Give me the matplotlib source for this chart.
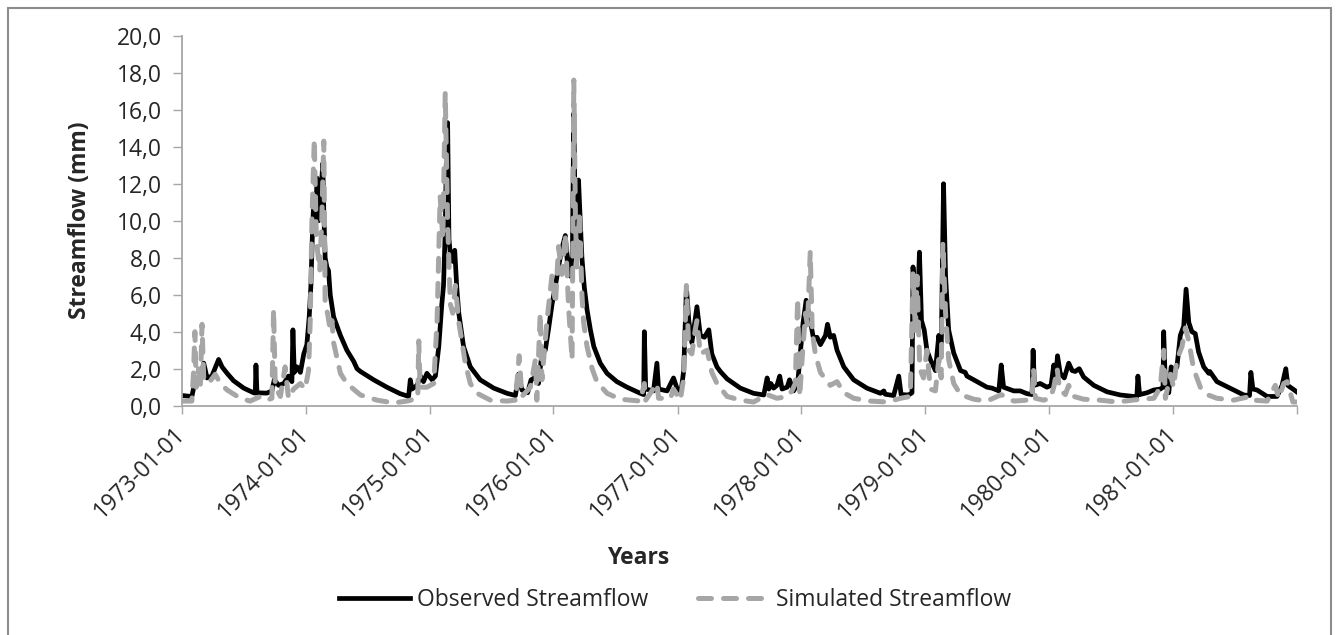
import numpy as np
import matplotlib
matplotlib.use('Agg')
import matplotlib.pyplot as plt
from matplotlib.patches import Rectangle
from matplotlib.ticker import FuncFormatter

plt.rcParams['font.family'] = ['Open Sans', 'DejaVu Sans']

# days counted from 1973-01-01, values in mm
obs_day = [0, 29, 36, 44, 54, 64, 74, 88, 108, 118, 133, 152, 182, 211, 216, 218, 221, 250, 265, 272,
           285, 300, 314, 324, 327, 331, 339, 349, 359, 368, 375, 380, 384, 388, 393, 398, 403, 408, 413, 415,
           418, 422, 427, 432, 437, 447, 467, 486, 506, 516, 526, 565, 604, 643, 668, 673, 678, 693, 703, 712,
           722, 737, 747, 757, 766, 771, 776, 779, 783, 787, 791, 798, 804, 810, 816, 830, 850, 879, 919, 958,
           983, 992, 1002, 1019, 1029, 1039, 1051, 1061, 1071, 1081, 1091, 1101, 1110, 1120, 1130, 1137, 1145, 1151, 1155, 1160,
           1164, 1169, 1174, 1179, 1186, 1194, 1204, 1214, 1233, 1253, 1282, 1312, 1351, 1361, 1363, 1367, 1390, 1400, 1405, 1430,
           1449, 1459, 1471, 1479, 1487, 1494, 1503, 1518, 1528, 1540, 1553, 1562, 1577, 1587, 1607, 1646, 1685, 1715, 1725, 1730,
           1736, 1744, 1754, 1762, 1769, 1784, 1791, 1803, 1815, 1823, 1831, 1840, 1844, 1852, 1862, 1872, 1882, 1897, 1903, 1911,
           1921, 1931, 1951, 1980, 2019, 2059, 2069, 2073, 2098, 2113, 2120, 2142, 2152, 2155, 2162, 2167, 2174, 2180, 2188, 2196,
           2206, 2221, 2231, 2238, 2245, 2251, 2260, 2275, 2295, 2309, 2314, 2334, 2373, 2388, 2408, 2415, 2422, 2452, 2471, 2491,
           2506, 2509, 2513, 2530, 2550, 2562, 2570, 2576, 2581, 2589, 2601, 2614, 2624, 2633, 2645, 2658, 2688, 2727, 2766, 2806,
           2815, 2818, 2823, 2845, 2865, 2884, 2892, 2894, 2899, 2909, 2916, 2925, 2933, 2943, 2953, 2960, 2968, 2977, 2987, 2997,
           3012, 3027, 3030, 3051, 3100, 3130, 3147, 3151, 3157, 3169, 3199, 3228, 3243, 3254, 3260, 3267, 3275, 3286]
obs_val = [0.55, 0.5, 1.1, 1.3, 1.4, 2.3, 1.5, 1.6, 2.5, 2.1, 1.75, 1.35, 0.95, 0.7, 0.68, 2.2, 0.7, 0.68, 0.8, 1.4,
           1.1, 1.2, 1.6, 1.3, 4.1, 1.8, 2.1, 1.8, 2.8, 3.3, 4.8, 6.5, 9.0, 11.0, 9.5, 12.3, 10.0, 11.5, 12.5, 13.1,
           10.5, 8.0, 7.5, 7.3, 6.0, 4.8, 3.8, 3.0, 2.4, 2.0, 1.85, 1.4, 1.0, 0.65, 0.5, 1.4, 0.9, 1.1, 1.6, 1.3,
           1.75, 1.4, 1.6, 3.2, 5.5, 6.5, 9.5, 13.0, 15.3, 9.0, 8.2, 7.8, 8.4, 6.4, 5.0, 3.2, 2.1, 1.4, 0.95, 0.67,
           0.55, 1.7, 0.85, 0.7, 1.4, 1.5, 1.2, 2.8, 3.0, 4.2, 5.5, 6.5, 7.5, 8.5, 9.2, 7.5, 7.0, 8.5, 15.8, 9.0,
           8.3, 12.2, 10.0, 8.0, 6.4, 5.2, 4.1, 3.2, 2.3, 1.75, 1.3, 1.0, 0.67, 0.6, 4.0, 0.9, 0.8, 2.3, 0.9, 0.8,
           1.5, 0.95, 0.75, 1.9, 6.4, 4.6, 3.4, 5.35, 3.8, 3.7, 4.1, 2.8, 2.1, 1.85, 1.45, 0.95, 0.67, 0.58, 1.5, 0.9,
           1.2, 0.95, 1.1, 1.6, 0.9, 1.0, 1.4, 0.8, 1.2, 2.9, 4.5, 5.7, 5.3, 4.6, 3.6, 3.7, 3.3, 3.8, 4.4, 3.7,
           3.8, 3.0, 2.1, 1.4, 0.95, 0.67, 0.8, 0.62, 0.55, 1.6, 0.6, 0.58, 0.7, 7.5, 5.5, 4.5, 8.3, 4.6, 4.1, 3.0,
           2.5, 1.9, 3.8, 2.8, 12.0, 7.0, 4.1, 2.85, 1.9, 1.8, 1.6, 1.4, 1.0, 0.95, 0.8, 2.2, 1.0, 0.8, 0.8, 0.65,
           0.6, 3.0, 1.1, 1.2, 1.0, 1.1, 2.2, 1.6, 2.7, 1.75, 1.5, 2.3, 1.9, 1.85, 2.0, 1.55, 1.1, 0.75, 0.58, 0.5,
           0.5, 1.6, 0.6, 0.7, 0.85, 0.9, 1.0, 4.0, 1.1, 0.7, 2.1, 1.9, 2.1, 3.8, 4.3, 6.3, 4.5, 4.0, 3.9, 2.9,
           2.1, 1.75, 1.85, 1.3, 0.85, 0.58, 0.55, 1.8, 0.9, 0.85, 0.5, 0.5, 1.1, 2.0, 1.1, 1.0, 0.9, 0.75]

sim_day = [0, 29, 34, 38, 42, 49, 54, 59, 64, 78, 98, 113, 133, 172, 201, 231, 250, 265, 270, 275,
           290, 304, 314, 329, 349, 363, 373, 378, 383, 390, 396, 406, 412, 418, 422, 429, 437, 442, 447, 467,
           486, 526, 575, 624, 663, 695, 698, 702, 722, 742, 752, 761, 769, 776, 783, 791, 798, 806, 816, 825,
           835, 850, 870, 909, 958, 983, 994, 1002, 1027, 1042, 1046, 1056, 1061, 1076, 1091, 1101, 1110, 1120, 1130, 1140,
           1150, 1155, 1160, 1164, 1172, 1179, 1184, 1194, 1209, 1223, 1253, 1292, 1351, 1363, 1367, 1400, 1405, 1440, 1449, 1469,
           1479, 1487, 1494, 1503, 1513, 1518, 1528, 1548, 1562, 1577, 1607, 1646, 1685, 1725, 1754, 1784, 1798, 1808, 1815, 1821,
           1828, 1838, 1844, 1852, 1858, 1867, 1882, 1911, 1931, 1951, 1980, 2029, 2078, 2118, 2147, 2155, 2162, 2167, 2175, 2186,
           2196, 2206, 2221, 2231, 2238, 2243, 2251, 2260, 2275, 2295, 2334, 2373, 2415, 2452, 2491, 2506, 2510, 2516, 2540, 2560,
           2570, 2580, 2587, 2604, 2614, 2629, 2658, 2707, 2756, 2825, 2865, 2884, 2894, 2899, 2914, 2923, 2933, 2948, 2958, 2968,
           2982, 3002, 3022, 3051, 3100, 3149, 3159, 3199, 3223, 3233, 3248, 3258, 3267, 3275, 3286]
sim_val = [0.25, 0.25, 1.8, 4.0, 1.0, 2.0, 1.0, 4.4, 1.5, 1.2, 1.7, 1.2, 0.85, 0.4, 0.25, 0.5, 0.3, 0.4, 5.2, 1.0,
           0.5, 2.1, 0.4, 0.9, 1.2, 0.9, 1.9, 4.6, 10.0, 14.4, 9.0, 7.3, 10.0, 14.3, 5.5, 5.0, 4.1, 4.6, 3.4, 1.75,
           1.2, 0.58, 0.3, 0.15, 0.25, 0.4, 3.5, 1.0, 1.0, 1.2, 4.6, 11.3, 9.0, 16.9, 10.0, 5.5, 5.0, 6.5, 4.5, 3.5,
           2.3, 1.2, 0.67, 0.3, 0.25, 0.3, 2.7, 0.5, 1.0, 2.5, 0.3, 5.0, 1.4, 4.6, 7.1, 5.5, 8.6, 7.1, 9.3, 5.2,
           2.5, 17.6, 10.0, 7.5, 10.5, 6.0, 4.5, 3.2, 2.0, 1.3, 0.67, 0.35, 0.25, 1.2, 0.3, 1.2, 0.4, 0.4, 0.9, 0.3,
           1.5, 6.5, 3.0, 2.8, 4.1, 4.6, 2.8, 3.0, 1.8, 1.2, 0.5, 0.3, 0.2, 0.6, 0.4, 0.5, 0.8, 1.2, 5.8, 0.5,
           2.5, 5.0, 4.3, 8.3, 4.0, 2.8, 1.8, 1.1, 1.3, 0.7, 0.4, 0.25, 0.2, 0.4, 0.5, 7.2, 4.0, 7.0, 2.0, 1.5,
           3.0, 0.9, 0.8, 2.5, 1.5, 8.8, 5.0, 2.5, 1.2, 0.6, 0.35, 0.25, 0.6, 0.25, 0.3, 0.5, 2.0, 0.4, 0.3, 0.4,
           1.0, 2.0, 0.9, 0.6, 1.1, 0.5, 0.35, 0.3, 0.2, 0.35, 0.4, 1.0, 3.0, 0.4, 1.7, 1.0, 2.5, 3.2, 4.2, 3.5,
           2.0, 1.0, 0.6, 0.4, 0.3, 0.5, 0.3, 0.25, 1.1, 0.4, 1.2, 1.3, 0.7, 0.2, 0.2]

years = list(range(1973, 1983))
year_labels = [f'{y}-01-01' for y in years[:-1]] + ['']

start = np.datetime64('1973-01-01')
obs_x = start + np.array(obs_day).astype('timedelta64[D]')
sim_x = start + np.array(sim_day).astype('timedelta64[D]')
year_ticks = np.array([f'{y}-01-01' for y in years], dtype='datetime64[D]')

fig = plt.figure(figsize=(13.38, 6.35), dpi=100)
ax = fig.add_axes([182/1338, 1-405.7/635, (1297-182)/1338, (405.7-35.7)/635])

ax.plot(obs_x, obs_val, color='black', lw=3.4, solid_joinstyle='round', label='Observed Streamflow')
ax.plot(sim_x, sim_val, color='#a6a6a6', lw=3.6, dashes=(2.6, 2.4), dash_capstyle='round',
        label='Simulated Streamflow')

ax.set_xlim(year_ticks[0], year_ticks[-1])
ax.set_ylim(0, 20)
ax.set_yticks(np.arange(0, 21, 2))
ax.yaxis.set_major_formatter(FuncFormatter(lambda v, p: f'{v:.1f}'.replace('.', ',')))
ax.set_xticks(year_ticks)
ax.set_xticklabels(year_labels, rotation=45, ha='right', va='center', rotation_mode='anchor')

for s in ['top', 'right']:
    ax.spines[s].set_visible(False)
for s in ['left', 'bottom']:
    ax.spines[s].set_color('#a6a6a6')
    ax.spines[s].set_linewidth(1.3)
ax.tick_params(axis='y', length=6.5, width=1, color='#a6a6a6', pad=8, labelsize=16.5, labelcolor='#262626')
ax.tick_params(axis='x', length=6, width=1, color='#a6a6a6', pad=12, labelsize=16.5, labelcolor='#262626')

ax.set_ylabel('Streamflow (mm)', fontsize=16.5, fontweight='bold', color='#262626', labelpad=18)
fig.text(638/1338, 1-558/635, 'Years', fontsize=16.5, fontweight='bold', color='#262626',
         ha='center', va='center')

fig.legend(loc='center', bbox_to_anchor=(675/1338, 1-600/635), ncol=2, frameon=False,
           fontsize=16.5, handlelength=3.1, handletextpad=0.3, columnspacing=2.2, labelcolor='#262626')

fig.patches.append(Rectangle((8/1338, -0.05), (1331-8)/1338, 1.05-8/635, transform=fig.transFigure,
                             fill=False, edgecolor='#8c8c8c', lw=1.5))

fig.savefig('out.png', dpi=100)
